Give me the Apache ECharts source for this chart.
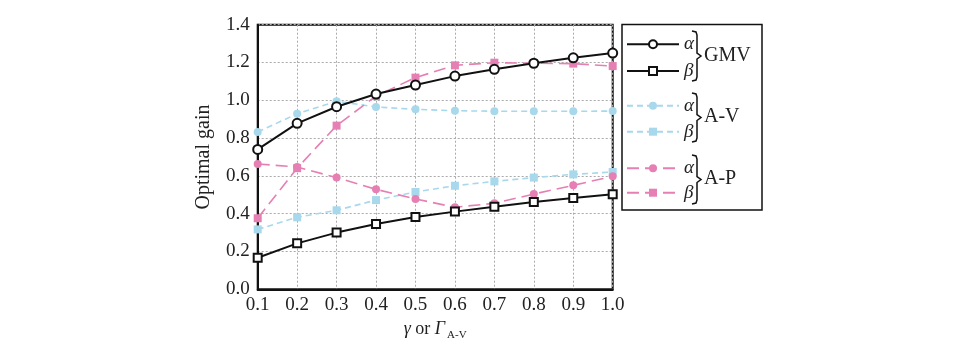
<!DOCTYPE html>
<html>
<head>
<meta charset="utf-8">
<script src="https://cdn.jsdelivr.net/npm/echarts@6/dist/echarts.min.js"></script>
<style>html,body{margin:0;padding:0;background:#fff}#c{width:966px;height:354px}</style>
</head>
<body>
<div id="c"></div>
<script>
var categories = ['0.1','0.2','0.3','0.4','0.5','0.6','0.7','0.8','0.9','1.0'];
var gmvAlpha = [0.74, 0.878, 0.966, 1.033, 1.081, 1.128, 1.164, 1.196, 1.225, 1.25];
var gmvBeta  = [0.167, 0.243, 0.300, 0.345, 0.383, 0.411, 0.437, 0.462, 0.483, 0.503];
var avAlpha  = [0.832, 0.929, 0.995, 0.965, 0.952, 0.945, 0.942, 0.942, 0.942, 0.943];
var avBeta   = [0.317, 0.381, 0.418, 0.472, 0.515, 0.548, 0.571, 0.591, 0.608, 0.621];
var apAlpha  = [0.663, 0.647, 0.591, 0.529, 0.478, 0.434, 0.455, 0.504, 0.550, 0.598];
var apBeta   = [0.376, 0.641, 0.866, 1.023, 1.120, 1.185, 1.199, 1.196, 1.194, 1.181];
var yTicks = ['0.0','0.2','0.4','0.6','0.8','1.0','1.2','1.4'];

var BLUE = '#a7d8ec', PINK = '#e680b4';
var FONT = '"Liberation Serif", "DejaVu Serif", serif';

function s(name, data, color, symbol, size, dash, width, z) {
  var empty = symbol.indexOf('empty') === 0;
  return {
    name: name, type: 'line', data: data, symbol: symbol, symbolSize: size,
    showAllSymbol: true, z: z,
    lineStyle: { color: color, width: width, type: dash },
    itemStyle: { color: color, borderColor: color, borderWidth: empty ? 1.5 : 0 },
    emphasis: { disabled: true }
  };
}

var chart = echarts.init(document.getElementById('c'));
var legendText = { fontFamily: FONT, fontSize: 19, fontStyle: 'italic', color: '#222', lineHeight: 19 };
function lg(names, top, gap) {
  return {
    data: names, orient: 'vertical', left: 626, top: top, padding: 0,
    itemWidth: 52, itemHeight: 10, itemGap: gap, selectedMode: false,
    textStyle: legendText,
    formatter: function (n) { return n.indexOf('α') >= 0 ? 'α' : 'β'; }
  };
}
function bracket(y0, y1) {
  var m = (y0 + y1) / 2;
  return {
    type: 'polyline', silent: true,
    shape: { points: [[692, y0], [696, y0 + 1], [697, y0 + 4], [697, m - 3], [701, m], [697, m + 3], [697, y1 - 4], [696, y1 - 1], [692, y1]] },
    style: { stroke: '#111', lineWidth: 1.5, fill: null }
  };
}
function glabel(txt, y) {
  return { type: 'text', silent: true, left: 704, top: y - 11,
    style: { text: txt, fontFamily: FONT, fontSize: 20, fill: '#222' } };
}

chart.setOption({
  animation: false,
  backgroundColor: '#fff',
  grid: { left: 257.7, right: 353.3, top: 24.7, bottom: 64.7, show: true, borderColor: '#111', borderWidth: 2, containLabel: false },
  xAxis: {
    type: 'category', data: categories, boundaryGap: false,
    axisLine: { lineStyle: { color: '#111', width: 2 } },
    axisTick: { show: false },
    axisLabel: { fontFamily: FONT, fontSize: 19, color: '#222', margin: 6 },
    splitLine: { show: true, lineStyle: { color: '#aaa', type: [2, 2], width: 1 } },
    name: '{i|γ} or {i|Γ}{s|A-V}', nameLocation: 'middle', nameGap: 28,
    nameTextStyle: {
      fontFamily: FONT, fontSize: 18, color: '#222',
      rich: {
        i: { fontFamily: FONT, fontSize: 18, fontStyle: 'italic', color: '#222' },
        s: { fontFamily: FONT, fontSize: 11, color: '#222', verticalAlign: 'bottom', padding: [12, 0, 0, 2] }
      }
    }
  },
  yAxis: {
    type: 'value', min: 0, max: 1.4, interval: 0.2,
    axisLine: { show: true, lineStyle: { color: '#111', width: 2 } },
    axisTick: { show: false },
    axisLabel: { fontFamily: FONT, fontSize: 19, color: '#222', margin: 8,
      formatter: function (v) { return yTicks[Math.round(v / 0.2)]; } },
    splitLine: { show: true, lineStyle: { color: '#aaa', type: [2, 2], width: 1 } },
    name: 'Optimal gain', nameLocation: 'middle', nameGap: 44,
    nameTextStyle: { fontFamily: FONT, fontSize: 20, color: '#222' }
  },
  legend: [
    lg(['GMV α', 'GMV β'], 34.8, 7.7),
    lg(['A-V α', 'A-V β'], 96.2, 7),
    lg(['A-P α', 'A-P β'], 158.8, 5.4)
  ],
  graphic: [
    { type: 'rect', silent: true, shape: { x: 622, y: 24.5, width: 140, height: 185.5 },
      style: { stroke: '#111', lineWidth: 1.5, fill: null } },
    bracket(31, 81), glabel('GMV', 57),
    bracket(93, 142), glabel('A-V', 118),
    bracket(155, 204), glabel('A-P', 180)
  ],
  series: [
    s('GMV α', gmvAlpha, '#111', 'emptyCircle', 9, 'solid', 2, 5),
    s('GMV β', gmvBeta, '#111', 'emptyRect', 8, 'solid', 2, 5),
    s('A-V α', avAlpha, BLUE, 'circle', 8, [6, 4], 1.6, 3),
    s('A-V β', avBeta, BLUE, 'rect', 8, [6, 4], 1.6, 3),
    s('A-P α', apAlpha, PINK, 'circle', 8, [12, 6], 1.6, 4),
    s('A-P β', apBeta, PINK, 'rect', 8, [12, 6], 1.6, 4)
  ]
});
</script>
</body>
</html>
